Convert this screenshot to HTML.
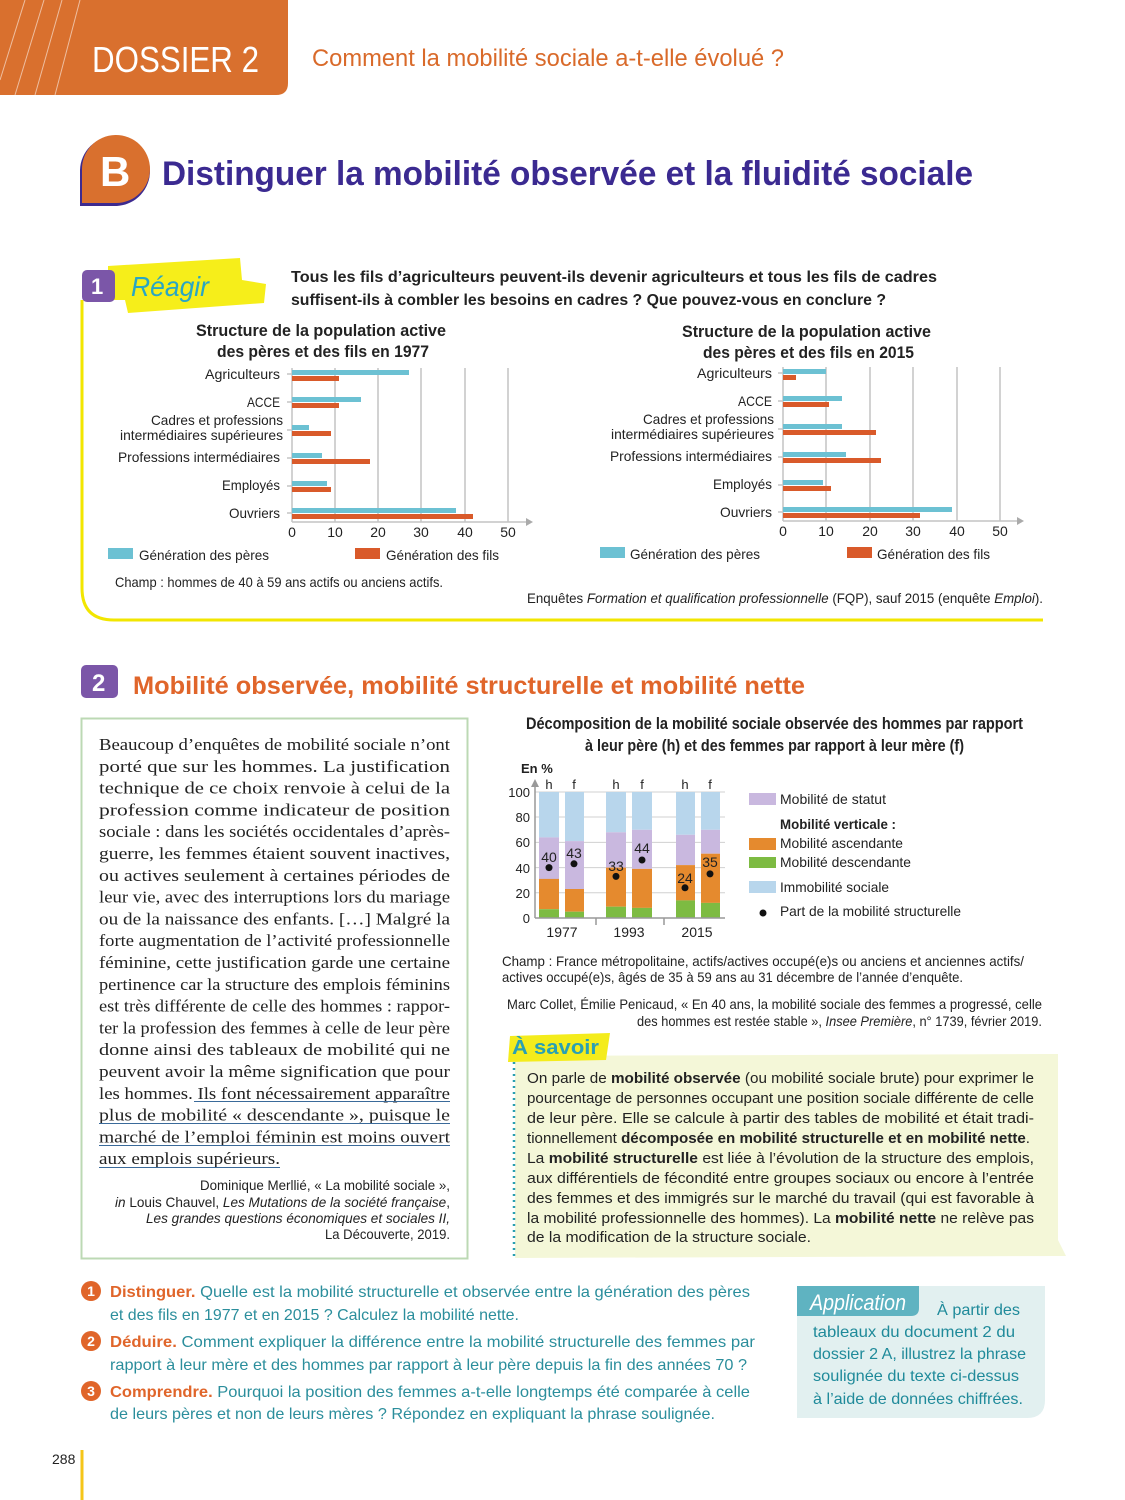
<!DOCTYPE html>
<html><head><meta charset="utf-8"><style>
html,body{margin:0;padding:0;background:#fff;}
svg{display:block;}
text{font-family:"Liberation Sans",sans-serif;}
.s text{font-family:"Liberation Serif",serif;font-size:17px;fill:#222;}
.l{font-size:14px;fill:#222;}
.q{font-size:16px;fill:#2b8e9c;}
.qb{font-weight:bold;fill:#e0652a;}
.a{font-size:14.5px;fill:#222;}
</style></head><body>
<svg width="1125" height="1500" viewBox="0 0 1125 1500" xmlns="http://www.w3.org/2000/svg">
<path d="M0,0 H288 V83 Q288,95 276,95 H0 Z" fill="#d9702e"/>
<g stroke="#fff" stroke-opacity="0.55" stroke-width="1">
<line x1="0" y1="80" x2="25" y2="0"/><line x1="15" y1="95" x2="44" y2="0"/><line x1="35" y1="95" x2="62" y2="0"/><line x1="55" y1="95" x2="80" y2="0"/>
</g>
<text x="92" y="72" font-size="36" fill="#fff" textLength="167" lengthAdjust="spacingAndGlyphs">DOSSIER 2</text>
<text x="312" y="66" font-size="24" fill="#d96a2a" textLength="472" lengthAdjust="spacingAndGlyphs">Comment la mobilité sociale a-t-elle évolué ?</text>

<path d="M80,206 V170 A35,35 0 1 1 117,206 Z" fill="#3d2a8f"/>
<path d="M82,203 V170 A34,34 0 1 1 116,203 Z" fill="#d9702e"/>
<text x="100" y="186" font-size="42" font-weight="bold" fill="#fff">B</text>
<text x="162" y="185" font-size="34" font-weight="bold" fill="#3b2a91" textLength="811" lengthAdjust="spacingAndGlyphs">Distinguer la mobilité observée et la fluidité sociale</text>

<path d="M82,300 V588 Q82,620 114,620 H1043" fill="none" stroke="#f2e600" stroke-width="3"/>
<polygon points="108,266 240,258 242,280 266,284 264,303 128,313 125,300 108,300" fill="#f6ee1a"/>
<rect x="82" y="270" width="33" height="32" rx="5" fill="#7b56a8"/>
<text x="91" y="294" font-size="22" font-weight="bold" fill="#fff">1</text>
<text x="131" y="296" font-size="28" font-style="italic" fill="#2aa6c4" textLength="78" lengthAdjust="spacingAndGlyphs">Réagir</text>
<text x="291" y="282" font-size="15.5" font-weight="bold" fill="#222" textLength="646" lengthAdjust="spacingAndGlyphs">Tous les fils d’agriculteurs peuvent-ils devenir agriculteurs et tous les fils de cadres</text>
<text x="291" y="305" font-size="15.5" font-weight="bold" fill="#222" textLength="595" lengthAdjust="spacingAndGlyphs">suffisent-ils à combler les besoins en cadres ? Que pouvez-vous en conclure ?</text>

<g font-size="17" font-weight="bold" fill="#222">
<text x="196" y="336" textLength="250" lengthAdjust="spacingAndGlyphs">Structure de la population active</text>
<text x="217" y="357" textLength="212" lengthAdjust="spacingAndGlyphs">des pères et des fils en 1977</text>
<text x="682" y="337" textLength="249" lengthAdjust="spacingAndGlyphs">Structure de la population active</text>
<text x="703" y="358" textLength="211" lengthAdjust="spacingAndGlyphs">des pères et des fils en 2015</text>
</g>

<g stroke="#c4c4c4" stroke-width="1.5">
<line x1="335" y1="368" x2="335" y2="522"/><line x1="378" y1="368" x2="378" y2="522"/><line x1="421" y1="368" x2="421" y2="522"/><line x1="465" y1="368" x2="465" y2="522"/><line x1="508" y1="368" x2="508" y2="522"/>
<line x1="292" y1="368" x2="292" y2="522"/>
<line x1="292" y1="522" x2="526" y2="522"/>
<line x1="287" y1="374" x2="292" y2="374"/><line x1="287" y1="402" x2="292" y2="402"/><line x1="287" y1="430" x2="292" y2="430"/><line x1="287" y1="458" x2="292" y2="458"/><line x1="287" y1="486" x2="292" y2="486"/><line x1="287" y1="513" x2="292" y2="513"/>
</g>
<polygon points="526,518 533,522 526,526" fill="#aaa"/>
<g fill="#6cc1d3">
<rect x="292" y="370" width="117" height="5"/><rect x="292" y="397" width="69" height="5"/><rect x="292" y="425" width="17" height="5"/><rect x="292" y="453" width="30" height="5"/><rect x="292" y="481" width="35" height="5"/><rect x="292" y="508" width="164" height="5"/>
</g>
<g fill="#d95a2a">
<rect x="292" y="376" width="47" height="5"/><rect x="292" y="403" width="47" height="5"/><rect x="292" y="431" width="39" height="5"/><rect x="292" y="459" width="78" height="5"/><rect x="292" y="487" width="39" height="5"/><rect x="292" y="514" width="181" height="5"/>
</g>
<g class="l" text-anchor="end">
<text x="280" y="379" textLength="75" lengthAdjust="spacingAndGlyphs">Agriculteurs</text>
<text x="280" y="407" textLength="33" lengthAdjust="spacingAndGlyphs">ACCE</text>
<text x="283" y="425" textLength="132" lengthAdjust="spacingAndGlyphs">Cadres et professions</text>
<text x="283" y="440" textLength="163" lengthAdjust="spacingAndGlyphs">intermédiaires supérieures</text>
<text x="280" y="462" textLength="162" lengthAdjust="spacingAndGlyphs">Professions intermédiaires</text>
<text x="280" y="490" textLength="58" lengthAdjust="spacingAndGlyphs">Employés</text>
<text x="280" y="518" textLength="51" lengthAdjust="spacingAndGlyphs">Ouvriers</text>
</g>
<g class="l" text-anchor="middle">
<text x="292" y="537">0</text><text x="335" y="537">10</text><text x="378" y="537">20</text><text x="421" y="537">30</text><text x="465" y="537">40</text><text x="508" y="537">50</text>
</g>

<g stroke="#c4c4c4" stroke-width="1.5">
<line x1="826" y1="367" x2="826" y2="521"/><line x1="870" y1="367" x2="870" y2="521"/><line x1="913" y1="367" x2="913" y2="521"/><line x1="957" y1="367" x2="957" y2="521"/><line x1="1000" y1="367" x2="1000" y2="521"/>
<line x1="783" y1="367" x2="783" y2="521"/>
<line x1="783" y1="521" x2="1017" y2="521"/>
<line x1="778" y1="373" x2="783" y2="373"/><line x1="778" y1="401" x2="783" y2="401"/><line x1="778" y1="429" x2="783" y2="429"/><line x1="778" y1="457" x2="783" y2="457"/><line x1="778" y1="485" x2="783" y2="485"/><line x1="778" y1="512" x2="783" y2="512"/>
</g>
<polygon points="1017,517 1024,521 1017,525" fill="#aaa"/>
<g fill="#6cc1d3">
<rect x="783" y="369" width="43" height="5"/><rect x="783" y="396" width="59" height="5"/><rect x="783" y="424" width="59" height="5"/><rect x="783" y="452" width="63" height="5"/><rect x="783" y="480" width="40" height="5"/><rect x="783" y="507" width="169" height="5"/>
</g>
<g fill="#d95a2a">
<rect x="783" y="375" width="13" height="5"/><rect x="783" y="402" width="46" height="5"/><rect x="783" y="430" width="93" height="5"/><rect x="783" y="458" width="98" height="5"/><rect x="783" y="486" width="48" height="5"/><rect x="783" y="513" width="137" height="5"/>
</g>
<g class="l" text-anchor="end">
<text x="772" y="378" textLength="75" lengthAdjust="spacingAndGlyphs">Agriculteurs</text>
<text x="772" y="406" textLength="34" lengthAdjust="spacingAndGlyphs">ACCE</text>
<text x="774" y="424" textLength="131" lengthAdjust="spacingAndGlyphs">Cadres et professions</text>
<text x="774" y="439" textLength="163" lengthAdjust="spacingAndGlyphs">intermédiaires supérieures</text>
<text x="772" y="461" textLength="162" lengthAdjust="spacingAndGlyphs">Professions intermédiaires</text>
<text x="772" y="489" textLength="59" lengthAdjust="spacingAndGlyphs">Employés</text>
<text x="772" y="517" textLength="52" lengthAdjust="spacingAndGlyphs">Ouvriers</text>
</g>
<g class="l" text-anchor="middle">
<text x="783" y="536">0</text><text x="826" y="536">10</text><text x="870" y="536">20</text><text x="913" y="536">30</text><text x="957" y="536">40</text><text x="1000" y="536">50</text>
</g>

<rect x="108" y="548" width="25" height="11" fill="#6cc1d3"/><rect x="355" y="548" width="25" height="11" fill="#d95a2a"/>
<rect x="600" y="547" width="25" height="11" fill="#6cc1d3"/><rect x="847" y="547" width="25" height="11" fill="#d95a2a"/>
<g class="l">
<text x="139" y="560" textLength="130" lengthAdjust="spacingAndGlyphs">Génération des pères</text>
<text x="386" y="560" textLength="113" lengthAdjust="spacingAndGlyphs">Génération des fils</text>
<text x="630" y="559" textLength="130" lengthAdjust="spacingAndGlyphs">Génération des pères</text>
<text x="877" y="559" textLength="113" lengthAdjust="spacingAndGlyphs">Génération des fils</text>
<text x="115" y="587" textLength="328" lengthAdjust="spacingAndGlyphs">Champ : hommes de 40 à 59 ans actifs ou anciens actifs.</text>
<text x="527" y="603" textLength="516" lengthAdjust="spacingAndGlyphs">Enquêtes <tspan font-style="italic">Formation et qualification professionnelle</tspan> (FQP), sauf 2015 (enquête <tspan font-style="italic">Emploi</tspan>).</text>
</g>

<rect x="81" y="665" width="37" height="33" rx="5" fill="#7b56a8"/>
<text x="92" y="691" font-size="24" font-weight="bold" fill="#fff">2</text>
<text x="133" y="694" font-size="25" font-weight="bold" fill="#e0652a" textLength="672" lengthAdjust="spacingAndGlyphs">Mobilité observée, mobilité structurelle et mobilité nette</text>
<rect x="81.5" y="718.5" width="386" height="540" fill="none" stroke="#bcd9b4" stroke-width="2"/>
<g class="s">
<text x="99" y="750" textLength="351" lengthAdjust="spacingAndGlyphs">Beaucoup d’enquêtes de mobilité sociale n’ont</text>
<text x="99" y="771.8" textLength="351" lengthAdjust="spacingAndGlyphs">porté que sur les hommes. La justification</text>
<text x="99" y="793.6" textLength="351" lengthAdjust="spacingAndGlyphs">technique de ce choix renvoie à celui de la</text>
<text x="99" y="815.4" textLength="351" lengthAdjust="spacingAndGlyphs">profession comme indicateur de position</text>
<text x="99" y="837.2" textLength="351" lengthAdjust="spacingAndGlyphs">sociale : dans les sociétés occidentales d’après-</text>
<text x="99" y="859" textLength="351" lengthAdjust="spacingAndGlyphs">guerre, les femmes étaient souvent inactives,</text>
<text x="99" y="880.8" textLength="351" lengthAdjust="spacingAndGlyphs">ou actives seulement à certaines périodes de</text>
<text x="99" y="902.6" textLength="351" lengthAdjust="spacingAndGlyphs">leur vie, avec des interruptions lors du mariage</text>
<text x="99" y="924.4" textLength="351" lengthAdjust="spacingAndGlyphs">ou de la naissance des enfants. […] Malgré la</text>
<text x="99" y="946.2" textLength="351" lengthAdjust="spacingAndGlyphs">forte augmentation de l’activité professionnelle</text>
<text x="99" y="968" textLength="351" lengthAdjust="spacingAndGlyphs">féminine, cette justification garde une certaine</text>
<text x="99" y="989.8" textLength="351" lengthAdjust="spacingAndGlyphs">pertinence car la structure des emplois féminins</text>
<text x="99" y="1011.6" textLength="351" lengthAdjust="spacingAndGlyphs">est très différente de celle des hommes : rappor-</text>
<text x="99" y="1033.4" textLength="351" lengthAdjust="spacingAndGlyphs">ter la profession des femmes à celle de leur père</text>
<text x="99" y="1055.2" textLength="351" lengthAdjust="spacingAndGlyphs">donne ainsi des tableaux de mobilité qui ne</text>
<text x="99" y="1077" textLength="351" lengthAdjust="spacingAndGlyphs">peuvent avoir la même signification que pour</text>
<text x="99" y="1098.8" textLength="351" lengthAdjust="spacingAndGlyphs">les hommes. Ils font nécessairement apparaître</text>
<text x="99" y="1120.6" textLength="351" lengthAdjust="spacingAndGlyphs">plus de mobilité « descendante », puisque le</text>
<text x="99" y="1142.4" textLength="351" lengthAdjust="spacingAndGlyphs">marché de l’emploi féminin est moins ouvert</text>
<text x="99" y="1164.2" textLength="181" lengthAdjust="spacingAndGlyphs">aux emplois supérieurs.</text>
</g>
<g stroke="#3a6a9a" stroke-width="1">
<line x1="194" y1="1101.5" x2="450" y2="1101.5"/><line x1="99" y1="1123.5" x2="450" y2="1123.5"/><line x1="99" y1="1145.5" x2="450" y2="1145.5"/><line x1="99" y1="1167.5" x2="280" y2="1167.5"/>
</g>
<g class="l" text-anchor="end">
<text x="450" y="1190" textLength="250" lengthAdjust="spacingAndGlyphs">Dominique Merllié, « La mobilité sociale »,</text>
<text x="450" y="1207" textLength="335" lengthAdjust="spacingAndGlyphs"><tspan font-style="italic">in</tspan> Louis Chauvel, <tspan font-style="italic">Les Mutations de la société française</tspan>,</text>
<text x="450" y="1223" font-style="italic" textLength="304" lengthAdjust="spacingAndGlyphs">Les grandes questions économiques et sociales II,</text>
<text x="450" y="1239" textLength="125" lengthAdjust="spacingAndGlyphs">La Découverte, 2019.</text>
</g>

<g font-size="17" font-weight="bold" fill="#222">
<text x="526" y="729" textLength="497" lengthAdjust="spacingAndGlyphs">Décomposition de la mobilité sociale observée des hommes par rapport</text>
<text x="585" y="751" textLength="379" lengthAdjust="spacingAndGlyphs">à leur père (h) et des femmes par rapport à leur mère (f)</text>
</g>
<text x="521" y="773" font-size="13" font-weight="bold" fill="#222">En %</text>
<g stroke="#d0d0d0" stroke-width="1">
<line x1="535" y1="792" x2="725" y2="792"/><line x1="535" y1="817" x2="725" y2="817"/><line x1="535" y1="842.4" x2="725" y2="842.4"/><line x1="535" y1="867.6" x2="725" y2="867.6"/><line x1="535" y1="892.8" x2="725" y2="892.8"/>
</g>
<g>
<rect x="539" y="792" width="20" height="45.4" fill="#b8d6ec"/><rect x="539" y="837.4" width="20" height="41.6" fill="#c9b8df"/><rect x="539" y="878.9" width="20" height="30.3" fill="#e58a2e"/><rect x="539" y="909.2" width="20" height="8.8" fill="#7dbb42"/>
<rect x="565" y="792" width="19" height="49.1" fill="#b8d6ec"/><rect x="565" y="841.1" width="19" height="47.9" fill="#c9b8df"/><rect x="565" y="889" width="19" height="22.7" fill="#e58a2e"/><rect x="565" y="911.7" width="19" height="6.3" fill="#7dbb42"/>
<rect x="606" y="792" width="20" height="40.3" fill="#b8d6ec"/><rect x="606" y="832.3" width="20" height="35.3" fill="#c9b8df"/><rect x="606" y="867.6" width="20" height="39.1" fill="#e58a2e"/><rect x="606" y="906.7" width="20" height="11.3" fill="#7dbb42"/>
<rect x="632" y="792" width="20" height="37.8" fill="#b8d6ec"/><rect x="632" y="829.8" width="20" height="39.1" fill="#c9b8df"/><rect x="632" y="868.9" width="20" height="39" fill="#e58a2e"/><rect x="632" y="907.9" width="20" height="10.1" fill="#7dbb42"/>
<rect x="676" y="792" width="19" height="42.8" fill="#b8d6ec"/><rect x="676" y="834.8" width="19" height="30.3" fill="#c9b8df"/><rect x="676" y="865.1" width="19" height="35.3" fill="#e58a2e"/><rect x="676" y="900.4" width="19" height="17.6" fill="#7dbb42"/>
<rect x="701" y="792" width="19" height="37.8" fill="#b8d6ec"/><rect x="701" y="829.8" width="19" height="23.9" fill="#c9b8df"/><rect x="701" y="853.7" width="19" height="49.2" fill="#e58a2e"/><rect x="701" y="902.9" width="19" height="15.1" fill="#7dbb42"/>
</g>
<g fill="#111">
<circle cx="549" cy="867.6" r="3.5"/><circle cx="574" cy="863.8" r="3.5"/><circle cx="616" cy="876.4" r="3.5"/><circle cx="642" cy="860" r="3.5"/><circle cx="685" cy="887.8" r="3.5"/><circle cx="710" cy="873.9" r="3.5"/>
</g>
<g font-size="14" fill="#222" text-anchor="middle">
<text x="549" y="862">40</text><text x="574" y="858">43</text><text x="616" y="871">33</text><text x="642" y="853">44</text><text x="685" y="883">24</text><text x="710" y="867">35</text>
<text x="549" y="789" font-size="13">h</text><text x="574" y="789" font-size="13">f</text><text x="616" y="789" font-size="13">h</text><text x="642" y="789" font-size="13">f</text><text x="685" y="789" font-size="13">h</text><text x="710" y="789" font-size="13">f</text>
<text x="562" y="937">1977</text><text x="629" y="937">1993</text><text x="697" y="937">2015</text>
</g>
<g stroke="#999" stroke-width="1.5"><line x1="535" y1="918" x2="535" y2="786"/><line x1="535" y1="918" x2="725" y2="918"/><line x1="596" y1="918" x2="596" y2="925"/><line x1="664" y1="918" x2="664" y2="925"/></g>
<polygon points="531,787 535,779 539,787" fill="#999"/>
<g font-size="13" fill="#222" text-anchor="end">
<text x="530" y="797">100</text><text x="530" y="822">80</text><text x="530" y="847">60</text><text x="530" y="873">40</text><text x="530" y="898">20</text><text x="530" y="923">0</text>
</g>
<rect x="749" y="793" width="27" height="12" fill="#c9b8df"/>
<rect x="749" y="838" width="27" height="12" fill="#e58a2e"/>
<rect x="749" y="857" width="27" height="11" fill="#7dbb42"/>
<rect x="749" y="881" width="27" height="12" fill="#b8d6ec"/>
<circle cx="763" cy="913" r="3.5" fill="#111"/>
<g class="l">
<text x="780" y="804" textLength="106" lengthAdjust="spacingAndGlyphs">Mobilité de statut</text>
<text x="780" y="829" font-weight="bold" textLength="116" lengthAdjust="spacingAndGlyphs">Mobilité verticale :</text>
<text x="780" y="848" textLength="123" lengthAdjust="spacingAndGlyphs">Mobilité ascendante</text>
<text x="780" y="867" textLength="131" lengthAdjust="spacingAndGlyphs">Mobilité descendante</text>
<text x="780" y="892" textLength="109" lengthAdjust="spacingAndGlyphs">Immobilité sociale</text>
<text x="780" y="916" textLength="181" lengthAdjust="spacingAndGlyphs">Part de la mobilité structurelle</text>
<text x="502" y="966" textLength="522" lengthAdjust="spacingAndGlyphs">Champ : France métropolitaine, actifs/actives occupé(e)s ou anciens et anciennes actifs/</text>
<text x="502" y="982" textLength="461" lengthAdjust="spacingAndGlyphs">actives occupé(e)s, âgés de 35 à 59 ans au 31 décembre de l’année d’enquête.</text>
<text x="507" y="1009" textLength="535" lengthAdjust="spacingAndGlyphs">Marc Collet, Émilie Penicaud, « En 40 ans, la mobilité sociale des femmes a progressé, celle</text>
<text x="637" y="1026" textLength="405" lengthAdjust="spacingAndGlyphs">des hommes est restée stable », <tspan font-style="italic">Insee Première</tspan>, n° 1739, février 2019.</text>
</g>

<path d="M515,1056 L1058,1054 L1058,1240 L1066,1256 L515,1258 Z" fill="#f4f7d8"/>
<line x1="514" y1="1062" x2="514" y2="1258" stroke="#2a9fb0" stroke-width="2.5" stroke-dasharray="2,4"/>
<polygon points="510,1036 610,1033 606,1060 508,1062" fill="#f4ec1c"/>
<text x="512" y="1054" font-size="20" font-weight="bold" fill="#2aa0b4" textLength="87" lengthAdjust="spacingAndGlyphs">À savoir</text>
<g class="a">
<text x="527" y="1083" textLength="507" lengthAdjust="spacingAndGlyphs">On parle de <tspan font-weight="bold">mobilité observée</tspan> (ou mobilité sociale brute) pour exprimer le</text>
<text x="527" y="1103" textLength="507" lengthAdjust="spacingAndGlyphs">pourcentage de personnes occupant une position sociale différente de celle</text>
<text x="527" y="1123" textLength="507" lengthAdjust="spacingAndGlyphs">de leur père. Elle se calcule à partir des tables de mobilité et était tradi-</text>
<text x="527" y="1143" textLength="503" lengthAdjust="spacingAndGlyphs">tionnellement <tspan font-weight="bold">décomposée en mobilité structurelle et en mobilité nette</tspan>.</text>
<text x="527" y="1163" textLength="507" lengthAdjust="spacingAndGlyphs">La <tspan font-weight="bold">mobilité structurelle</tspan> est liée à l’évolution de la structure des emplois,</text>
<text x="527" y="1183" textLength="507" lengthAdjust="spacingAndGlyphs">aux différentiels de fécondité entre groupes sociaux ou encore à l’entrée</text>
<text x="527" y="1203" textLength="507" lengthAdjust="spacingAndGlyphs">des femmes et des immigrés sur le marché du travail (qui est favorable à</text>
<text x="527" y="1223" textLength="507" lengthAdjust="spacingAndGlyphs">la mobilité professionnelle des hommes). La <tspan font-weight="bold">mobilité nette</tspan> ne relève pas</text>
<text x="527" y="1242" textLength="284" lengthAdjust="spacingAndGlyphs">de la modification de la structure sociale.</text>
</g>

<g fill="#e0652a"><circle cx="91" cy="1291" r="10"/><circle cx="91" cy="1341" r="10"/><circle cx="91" cy="1391" r="10"/></g>
<g font-size="14" font-weight="bold" fill="#fff" text-anchor="middle"><text x="91" y="1296">1</text><text x="91" y="1346">2</text><text x="91" y="1396">3</text></g>
<g class="q">
<text x="110" y="1297" textLength="640" lengthAdjust="spacingAndGlyphs"><tspan class="qb">Distinguer.</tspan> Quelle est la mobilité structurelle et observée entre la génération des pères</text>
<text x="110" y="1320" textLength="409" lengthAdjust="spacingAndGlyphs">et des fils en 1977 et en 2015 ? Calculez la mobilité nette.</text>
<text x="110" y="1347" textLength="645" lengthAdjust="spacingAndGlyphs"><tspan class="qb">Déduire.</tspan> Comment expliquer la différence entre la mobilité structurelle des femmes par</text>
<text x="110" y="1370" textLength="637" lengthAdjust="spacingAndGlyphs">rapport à leur mère et des hommes par rapport à leur père depuis la fin des années 70 ?</text>
<text x="110" y="1397" textLength="640" lengthAdjust="spacingAndGlyphs"><tspan class="qb">Comprendre.</tspan> Pourquoi la position des femmes a-t-elle longtemps été comparée à celle</text>
<text x="110" y="1419" textLength="605" lengthAdjust="spacingAndGlyphs">de leurs pères et non de leurs mères ? Répondez en expliquant la phrase soulignée.</text>
</g>

<path d="M797,1286 H1045 V1400 Q1045,1418 1027,1418 H797 Z" fill="#e2f0f0"/>
<path d="M797,1286 H919 V1308 Q919,1316 911,1316 H797 Z" fill="#5fb3c1"/>
<text x="810" y="1310" font-size="22" font-style="italic" fill="#fff" textLength="96" lengthAdjust="spacingAndGlyphs">Application</text>
<g font-size="16" fill="#1f8a9a">
<text x="937" y="1315" textLength="83" lengthAdjust="spacingAndGlyphs">À partir des</text>
<text x="813" y="1337" textLength="202" lengthAdjust="spacingAndGlyphs">tableaux du document 2 du</text>
<text x="813" y="1359" textLength="213" lengthAdjust="spacingAndGlyphs">dossier 2 A, illustrez la phrase</text>
<text x="813" y="1381" textLength="206" lengthAdjust="spacingAndGlyphs">soulignée du texte ci-dessus</text>
<text x="813" y="1404" textLength="210" lengthAdjust="spacingAndGlyphs">à l’aide de données chiffrées.</text>
</g>

<text x="52" y="1464" font-size="14" fill="#222">288</text>
<line x1="82" y1="1450" x2="82" y2="1500" stroke="#f5c518" stroke-width="3"/>
</svg>
</body></html>
